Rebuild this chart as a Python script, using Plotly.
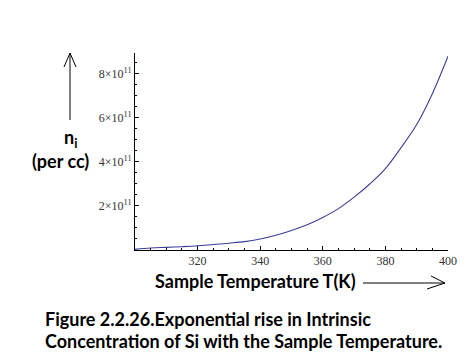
import plotly.graph_objects as go

# Data
temperature_K = [300, 305, 310, 315, 320, 325, 330, 335, 340, 345, 350,
                 355, 360, 365, 370, 375, 380, 385, 390, 395, 400]
ni_per_cc = [0.03e11, 0.09e11, 0.12e11, 0.15e11, 0.19e11, 0.25e11, 0.31e11,
             0.38e11, 0.50e11, 0.67e11, 0.89e11, 1.15e11, 1.48e11, 1.88e11,
             2.40e11, 3.00e11, 3.70e11, 4.65e11, 5.70e11, 7.10e11, 8.80e11]

x_tick_vals = [320, 340, 360, 380, 400]
x_tick_text = ["320", "340", "360", "380", "400"]
y_tick_vals = [2e11, 4e11, 6e11, 8e11]
y_tick_text = ["2×10<sup>11</sup>", "4×10<sup>11</sup>",
               "6×10<sup>11</sup>", "8×10<sup>11</sup>"]

y_label_top = "n<sub>i</sub>"
y_label_bottom = "(per cc)"
x_label = "Sample Temperature T(K)"
caption_1 = "Figure 2.2.26.Exponential rise in Intrinsic"
caption_2 = "Concentration of Si with the Sample Temperature."

W, H = 468, 361
L, R, T, B = 127, 28, 45, 119
PW, PH = W - L - R, H - T - B


def px(x):
    return (x - L) / PW


def py(y):
    return (H - B - y) / PH


fig = go.Figure()
fig.add_trace(go.Scatter(x=temperature_K, y=ni_per_cc, mode="lines",
                         line=dict(color="#3d3d99", width=1.1, shape="spline"),
                         showlegend=False, hoverinfo="skip"))

tickfont = dict(family="Liberation Serif", size=12, color="#333333")
fig.update_xaxes(range=[300, 400], showline=True, linecolor="black", linewidth=1,
                 ticks="inside", ticklen=4, tickcolor="black",
                 tickvals=x_tick_vals, ticktext=x_tick_text, tickfont=tickfont,
                 minor=dict(ticks="inside", ticklen=2, dtick=5, tick0=300,
                            tickcolor="black", showgrid=False),
                 showgrid=False, zeroline=False)
fig.update_yaxes(range=[0, 8.95e11], showline=True, linecolor="black", linewidth=1,
                 ticks="inside", ticklen=4, tickcolor="black",
                 tickvals=y_tick_vals, ticktext=y_tick_text, tickfont=tickfont,
                 minor=dict(ticks="inside", ticklen=2, dtick=0.5e11, tick0=0,
                            tickcolor="black", showgrid=False),
                 showgrid=False, zeroline=False)

labfont = dict(family="Lato", size=18, color="black")
capfont = dict(family="Lato", size=18, color="black")
ann = [
    dict(x=px(62), y=py(130), text="<b>" + y_label_top + "</b>", xanchor="center",
         yanchor="middle", font=labfont),
    dict(x=px(52), y=py(153), text="<b>" + y_label_bottom + "</b>", xanchor="center",
         yanchor="middle", font=labfont),
    dict(x=px(145), y=py(273), text="<b>" + x_label + "</b>", xanchor="left",
         yanchor="middle", font=labfont),
    dict(x=px(35), y=py(311), text="<b>" + caption_1 + "</b>", xanchor="left",
         yanchor="middle", font=capfont),
    dict(x=px(35), y=py(333), text="<b>" + caption_2 + "</b>", xanchor="left",
         yanchor="middle", font=capfont),
]
for a in ann:
    a.update(xref="paper", yref="paper", showarrow=False)
fig.update_layout(annotations=ann)


def path(points):
    return "M " + " L ".join(f"{px(a)},{py(b)}" for a, b in points)


line = dict(color="black", width=1)
fig.add_shape(type="path", xref="paper", yref="paper",
              path=path([(62, 112), (62, 45)]), line=line)
fig.add_shape(type="path", xref="paper", yref="paper",
              path=path([(56, 59), (62, 45), (68, 59)]), line=line)
fig.add_shape(type="path", xref="paper", yref="paper",
              path=path([(355, 275), (437, 275)]), line=line)
fig.add_shape(type="path", xref="paper", yref="paper",
              path=path([(423, 268), (437, 275), (419, 281)]), line=line)

fig.update_layout(width=W, height=H, margin=dict(l=L, r=R, t=T, b=B),
                  paper_bgcolor="white", plot_bgcolor="white")

fig.write_html("out.html")
